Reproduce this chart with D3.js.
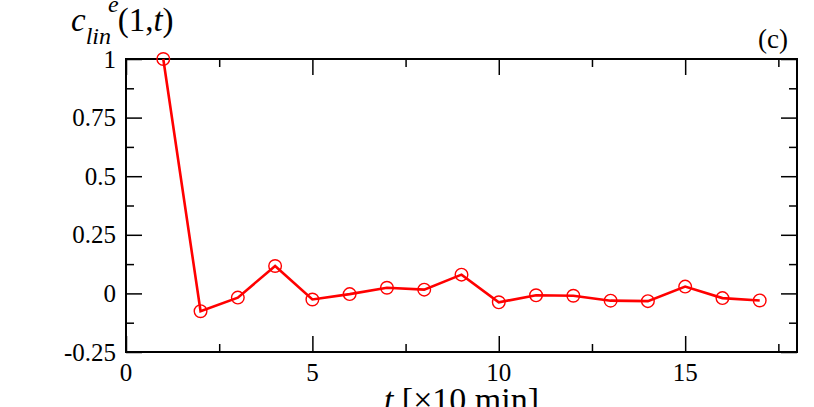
<!DOCTYPE html>
<html><head><meta charset="utf-8">
<script src="https://cdn.jsdelivr.net/npm/d3@7"></script>
<style>body{margin:0;background:#fff}svg{display:block}text{font-family:"Liberation Serif","Times New Roman",serif;fill:#000}</style>
</head><body>
<svg id="c" width="814" height="407"></svg>
<script>
const tValues = [1,2,3,4,5,6,7,8,9,10,11,12,13,14,15,16,17];
const cValues = [1.0,-0.076,-0.018,0.117,-0.026,-0.003,0.024,0.016,0.080,-0.038,-0.008,-0.010,-0.031,-0.033,0.029,-0.020,-0.030];
const xMajorTicks = [0,5,10,15];
const xMinorTicks = [2.5,7.5,12.5,17.5];
const yMajorTicks = [-0.25,0,0.25,0.5,0.75,1];
const yMinorTicks = [-0.125,0.125,0.375,0.625,0.875];
const yTickLabels = ["-0.25","0","0.25","0.5","0.75","1"];

const W=814,H=407, L=126,R=797,T=59,B=352;
const svg=d3.select("#c");
const x=d3.scaleLinear().domain([0,18]).range([L,R]);
const y=d3.scaleLinear().domain([-0.25,1]).range([B,T]);
const MAJ=16, MIN=8;

function addTicks(axis, vals, len){
  svg.append("g").attr("transform",axis.tr).call(axis.gen.tickValues(vals).tickSize(len).tickFormat(""))
    .call(g=>g.select(".domain").remove())
    .call(g=>g.selectAll("line").attr("stroke","#000").attr("stroke-width",1.5));
}
addTicks({tr:`translate(0,${B})`,gen:d3.axisTop(x)},xMajorTicks,MAJ);
addTicks({tr:`translate(0,${B})`,gen:d3.axisTop(x)},xMinorTicks,MIN);
addTicks({tr:`translate(0,${T})`,gen:d3.axisBottom(x)},xMajorTicks,MAJ);
addTicks({tr:`translate(0,${T})`,gen:d3.axisBottom(x)},xMinorTicks,MIN);
addTicks({tr:`translate(${L},0)`,gen:d3.axisRight(y)},yMajorTicks,MAJ);
addTicks({tr:`translate(${L},0)`,gen:d3.axisRight(y)},yMinorTicks,MIN);
addTicks({tr:`translate(${R},0)`,gen:d3.axisLeft(y)},yMajorTicks,MAJ);
addTicks({tr:`translate(${R},0)`,gen:d3.axisLeft(y)},yMinorTicks,MIN);

svg.append("rect").attr("x",L).attr("y",T).attr("width",R-L).attr("height",B-T)
  .attr("fill","none").attr("stroke","#000").attr("stroke-width",2);

svg.append("g").selectAll("text").data(xMajorTicks).join("text")
  .attr("x",d=>x(d)).attr("y",381).attr("text-anchor","middle").attr("font-size",25).text(d=>d);
svg.append("g").selectAll("text").data(yMajorTicks).join("text")
  .attr("x",116).attr("y",d=>y(d)+8.5).attr("text-anchor","end").attr("font-size",25)
  .text((d,i)=>yTickLabels[i]);

svg.append("path").datum(tValues.map((t,i)=>[t,cValues[i]]))
  .attr("fill","none").attr("stroke","#ff0000").attr("stroke-width",2.6)
  .attr("d",d3.line().x(d=>x(d[0])).y(d=>y(d[1])));
svg.append("g").selectAll("circle").data(tValues.map((t,i)=>[t,cValues[i]])).join("circle")
  .attr("cx",d=>x(d[0])).attr("cy",d=>y(d[1])).attr("r",6.3)
  .attr("fill","none").attr("stroke","#ff0000").attr("stroke-width",1.4);

const yt=svg.append("text").attr("x",71).attr("y",31).attr("font-size",33);
yt.append("tspan").attr("font-style","italic").text("c");
yt.append("tspan").attr("font-style","italic").attr("font-size",24).attr("dy",13).text("lin");
yt.append("tspan").attr("font-style","italic").attr("font-size",24).attr("dx",-3).attr("dy",-32).text("e");
yt.append("tspan").attr("dy",19).attr("dx",-1).text("(1,");
yt.append("tspan").attr("font-style","italic").text("t");
yt.append("tspan").text(")");

const xt=svg.append("text").attr("x",(L+R)/2).attr("y",411).attr("text-anchor","middle").attr("font-size",34);
xt.append("tspan").attr("font-style","italic").text("t");
xt.append("tspan").text(" [×10 min]");

svg.append("text").attr("x",788).attr("y",48).attr("text-anchor","end").attr("font-size",27).text("(c)");
</script>
</body></html>
